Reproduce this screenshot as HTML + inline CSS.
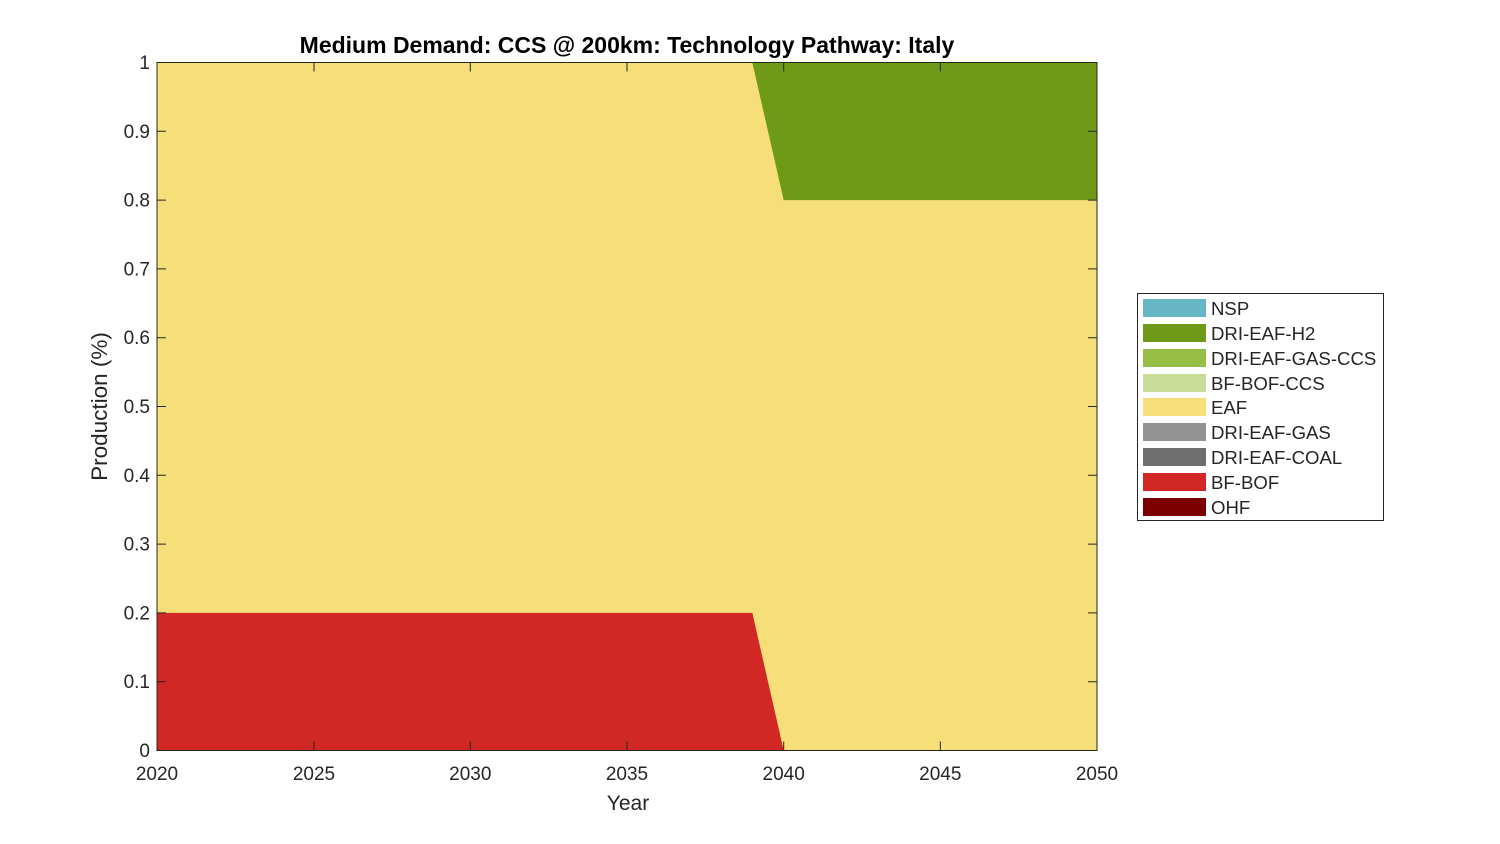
<!DOCTYPE html>
<html><head><style>body{margin:0;background:#fff}svg{display:block}text{font-family:"Liberation Sans",Arial,sans-serif;fill:#262626}</style></head>
<body>
<svg width="1500" height="844" viewBox="0 0 1500 844" xmlns="http://www.w3.org/2000/svg">
<rect width="1500" height="844" fill="#fff"/>
<rect x="157" y="62.5" width="940" height="688" fill="#F6DF78"/>
<polygon points="157,750.5 157,612.9 752.3,612.9 783.7,750.5" fill="#D12826"/>
<polygon points="752.3,62.5 1097,62.5 1097,200.1 783.7,200.1" fill="#6F9A18"/>
<g stroke="#262626" stroke-width="1" fill="none">
<rect x="157" y="62.5" width="940" height="688"/>
<path d="M157,750.5v-9M314,750.5v-9M470.3,750.5v-9M627,750.5v-9M783.7,750.5v-9M940.3,750.5v-9M157,62.5v9M314,62.5v9M470.3,62.5v9M627,62.5v9M783.7,62.5v9M940.3,62.5v9
M157,681.7h9M157,612.9h9M157,544.1h9M157,475.3h9M157,406.5h9M157,337.7h9M157,268.9h9M157,200.1h9M157,131.3h9
M1097,681.7h-9M1097,612.9h-9M1097,544.1h-9M1097,475.3h-9M1097,406.5h-9M1097,337.7h-9M1097,268.9h-9M1097,200.1h-9M1097,131.3h-9"/>
</g>
<g font-size="19" text-anchor="middle">
<text x="157" y="780">2020</text><text x="314" y="780">2025</text><text x="470.3" y="780">2030</text><text x="627" y="780">2035</text><text x="783.7" y="780">2040</text><text x="940.3" y="780">2045</text><text x="1097" y="780">2050</text>
</g>
<g font-size="19" text-anchor="end">
<text x="150" y="757">0</text><text x="150" y="688.2">0.1</text><text x="150" y="619.4">0.2</text><text x="150" y="550.6">0.3</text><text x="150" y="481.8">0.4</text><text x="150" y="413">0.5</text><text x="150" y="344.2">0.6</text><text x="150" y="275.4">0.7</text><text x="150" y="206.6">0.8</text><text x="150" y="137.8">0.9</text><text x="150" y="69">1</text>
</g>
<text x="628" y="810" font-size="21" text-anchor="middle">Year</text>
<text transform="translate(107,406.5) rotate(-90)" font-size="22.5" text-anchor="middle">Production (%)</text>
<text x="627" y="53" font-size="23" font-weight="bold" text-anchor="middle" style="fill:#000">Medium Demand: CCS @ 200km: Technology Pathway: Italy</text>
<rect x="1137.5" y="293.5" width="246" height="227" fill="#fff" stroke="#262626"/>
<g font-size="18.6">
<rect x="1143" y="299" width="63" height="18" fill="#67B6C6"/><text x="1211" y="315">NSP</text>
<rect x="1143" y="324" width="63" height="18" fill="#6F9A18"/><text x="1211" y="340">DRI-EAF-H2</text>
<rect x="1143" y="349" width="63" height="18" fill="#96BE45"/><text x="1211" y="365">DRI-EAF-GAS-CCS</text>
<rect x="1143" y="374" width="63" height="18" fill="#C8DC98"/><text x="1211" y="390">BF-BOF-CCS</text>
<rect x="1143" y="398" width="63" height="18" fill="#F6DF78"/><text x="1211" y="414">EAF</text>
<rect x="1143" y="423" width="63" height="18" fill="#939393"/><text x="1211" y="439">DRI-EAF-GAS</text>
<rect x="1143" y="448" width="63" height="18" fill="#6E6E6E"/><text x="1211" y="464">DRI-EAF-COAL</text>
<rect x="1143" y="473" width="63" height="18" fill="#D12826"/><text x="1211" y="489">BF-BOF</text>
<rect x="1143" y="498" width="63" height="18" fill="#7D0000"/><text x="1211" y="514">OHF</text>
</g>
</svg>
</body></html>
